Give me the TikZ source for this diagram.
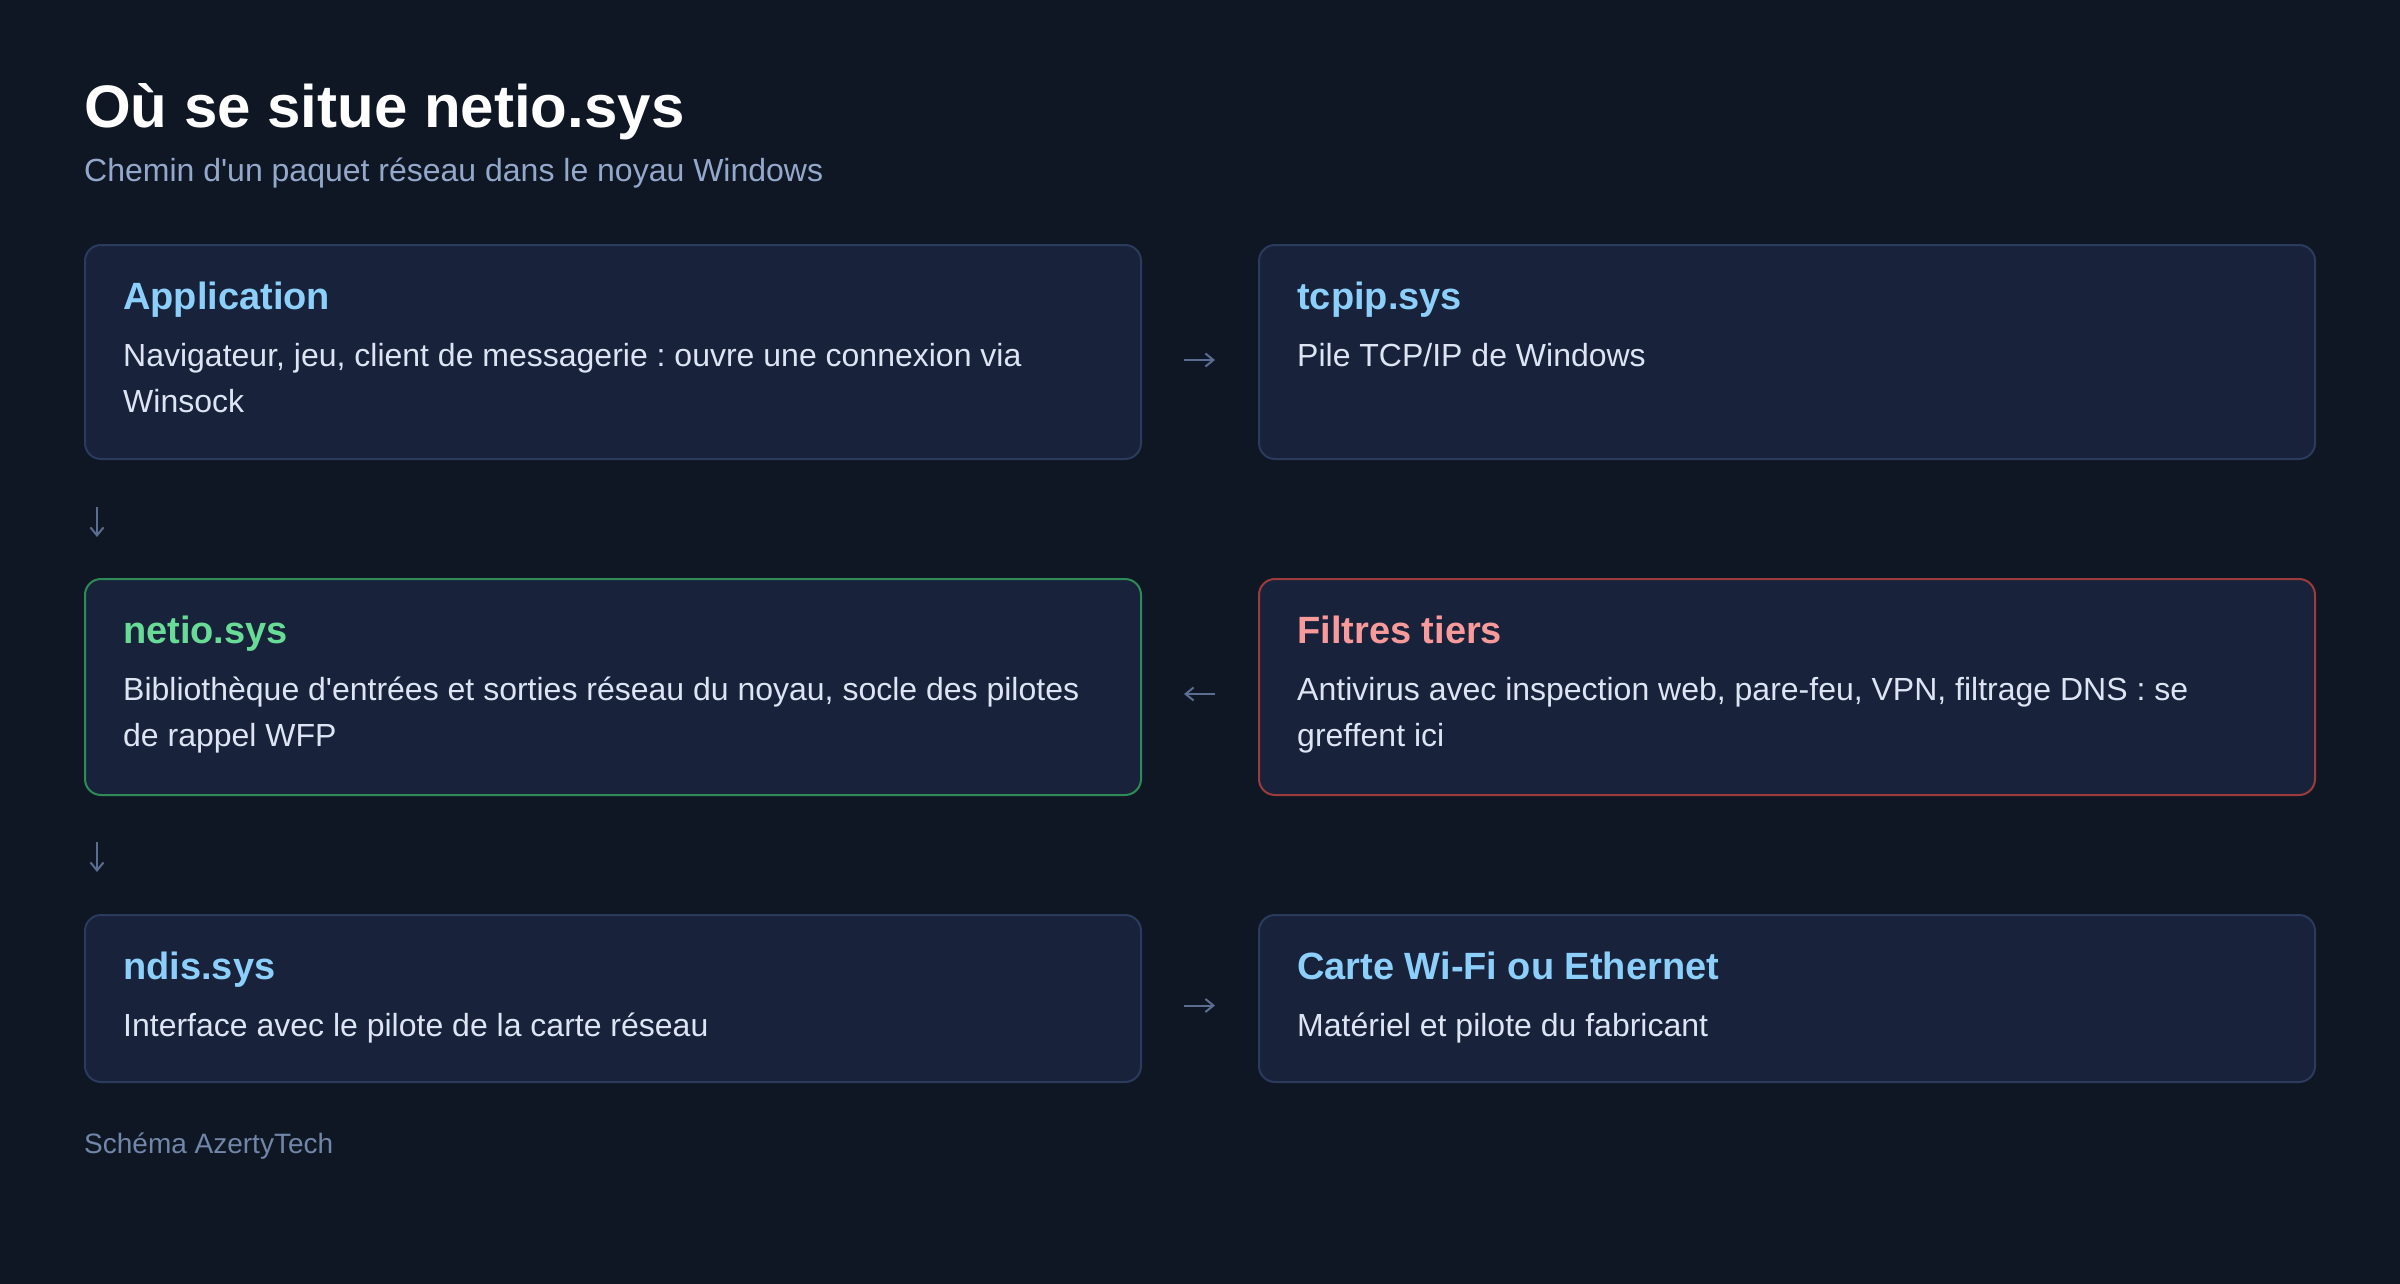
\documentclass[tikz,border=0pt]{standalone}
\usepackage{fontspec}
\setmainfont{Liberation Sans}[Ligatures=TeXOff]
\usetikzlibrary{arrows.meta,calc}
\definecolor{bgc}{HTML}{101724}
\definecolor{cardfill}{HTML}{18223A}
\definecolor{cardline}{HTML}{2B3B5E}
\definecolor{greenline}{HTML}{2E8B57}
\definecolor{redline}{HTML}{9C3B3B}
\definecolor{headblue}{HTML}{8CCFFB}
\definecolor{headgreen}{HTML}{68DC96}
\definecolor{headred}{HTML}{F89A9A}
\definecolor{bodyc}{HTML}{DDE5F4}
\definecolor{subc}{HTML}{94A8CC}
\definecolor{footc}{HTML}{7186A8}
\definecolor{arrc}{HTML}{5B6E91}
\frenchspacing
\begin{document}
\begin{tikzpicture}[x=1pt,y=-1pt,
  card/.style={draw=cardline, fill=cardfill, line width=2pt, rounded corners=16pt,
    anchor=north west, minimum width=1056pt, inner sep=0pt, outer sep=0pt},
  head/.style={anchor=base west, inner sep=0pt, font=\fontsize{38}{46}\selectfont\bfseries},
  body/.style={anchor=base west, inner sep=0pt, text=bodyc, font=\fontsize{32}{46}\selectfont},
  arr/.style={draw=arrc, line width=2pt, -{Straight Barb[length=8pt,width=13pt]}}]
\fill[bgc] (0,0) rectangle (2400,1284);
\useasboundingbox (0,0) rectangle (2400,1284);
% title
\node[anchor=base west, inner sep=0pt, text=white, font=\fontsize{60}{72}\selectfont\bfseries] (title) at (84,128) {Où se situe netio.sys};
\node[anchor=base west, inner sep=0pt, text=subc, font=\fontsize{32}{40}\selectfont] (sub) at (84,182) {Chemin d'un paquet réseau dans le noyau Windows};
% cards
\node[card, minimum height=214pt] (app) at (85,245) {};
\node[card, minimum height=214pt] (tcp) at (1259,245) {};
\node[card, minimum height=216pt, draw=greenline] (netio) at (85,579) {};
\node[card, minimum height=216pt, draw=redline] (filt) at (1259,579) {};
\node[card, minimum height=167pt] (ndis) at (85,915) {};
\node[card, minimum height=167pt] (carte) at (1259,915) {};
% texts
\node[head, text=headblue] (appH) at ($(app.north west)+(38,64)$) {Application};
\node[body] (appB1) at ($(app.north west)+(38,121)$) {Navigateur, jeu, client de messagerie : ouvre une connexion via};
\node[body] (appB2) at ($(app.north west)+(38,167)$) {Winsock};
\node[head, text=headblue] (tcpH) at ($(tcp.north west)+(38,64)$) {tcpip.sys};
\node[body] (tcpB1) at ($(tcp.north west)+(38,121)$) {Pile TCP/IP de Windows};
\node[head, text=headgreen] (netioH) at ($(netio.north west)+(38,64)$) {netio.sys};
\node[body] (netioB1) at ($(netio.north west)+(38,121)$) {Bibliothèque d'entrées et sorties réseau du noyau, socle des pilotes};
\node[body] (netioB2) at ($(netio.north west)+(38,167)$) {de rappel WFP};
\node[head, text=headred] (filtH) at ($(filt.north west)+(38,64)$) {Filtres tiers};
\node[body] (filtB1) at ($(filt.north west)+(38,121)$) {Antivirus avec inspection web, pare-feu, VPN, filtrage DNS : se};
\node[body] (filtB2) at ($(filt.north west)+(38,167)$) {greffent ici};
\node[head, text=headblue] (ndisH) at ($(ndis.north west)+(38,64)$) {ndis.sys};
\node[body] (ndisB1) at ($(ndis.north west)+(38,121)$) {Interface avec le pilote de la carte réseau};
\node[head, text=headblue] (carteH) at ($(carte.north west)+(38,64)$) {Carte Wi-Fi ou Ethernet};
\node[body] (carteB1) at ($(carte.north west)+(38,121)$) {Matériel et pilote du fabricant};
% footer
\node[anchor=base west, inner sep=0pt, text=footc, font=\fontsize{28}{32}\selectfont] (foot) at (84,1153) {Schéma AzertyTech};
% arrows
\draw[arr] ($(app.east)+(43,8)$) -- ($(tcp.west)+(-44,8)$);
\draw[arr] ($(app.south west)+(12,48)$) -- ($(netio.north west)+(12,-42)$);
\draw[arr] ($(filt.west)+(-44,7)$) -- ($(netio.east)+(43,7)$);
\draw[arr] ($(netio.south west)+(12,47)$) -- ($(ndis.north west)+(12,-43)$);
\draw[arr] ($(ndis.east)+(43,7)$) -- ($(carte.west)+(-44,7)$);
\end{tikzpicture}
\end{document}
